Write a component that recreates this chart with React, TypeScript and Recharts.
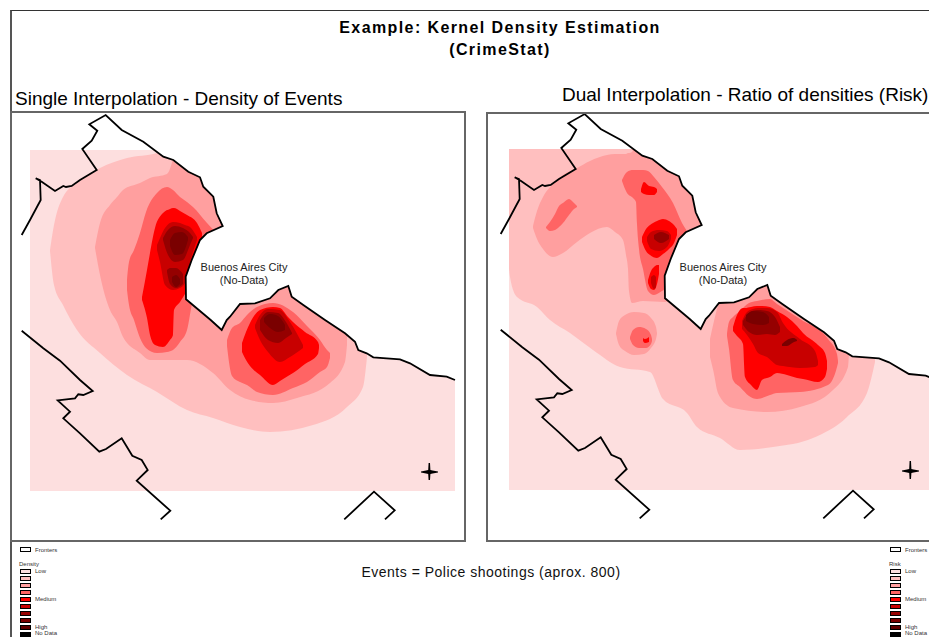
import { Area, ComposedChart, Line, XAxis, YAxis } from 'recharts';

type Band = [number, number, number][]; // x, top, bottom
type Pt = [number, number];

const LEVELS = ['#fddfdf', '#ffbfbf', '#ff9f9f', '#ff6464', '#ff0000', '#c80000', '#950000', '#7a0000', '#5f0000', '#000000'];

// Map frame, in the units of the map's own axes
const X_DOMAIN: [number, number] = [11, 465];
const Y_DOMAIN: [number, number] = [112, 541];

const extent: Band = [[30, 150, 491], [455, 150, 491]];

// Borders
const northBorder: Pt[] = [[21.7, 235], [30, 220], [40.7, 200], [40, 180], [35.7, 178.3], [41.7, 181.7], [55, 191], [63.3, 186], [66, 187], [71.7, 186], [80, 180], [96.7, 170], [82.3, 149], [91.7, 140.7], [97.3, 130.7], [89.3, 124.3], [105.7, 115], [121.7, 130], [143.3, 141.7], [163.3, 156.7], [173.3, 160], [188.3, 171.7], [200, 177.3], [203.3, 186.7], [213.3, 196.7], [216.7, 213.3], [222.7, 226], [206.7, 233.3], [200, 240], [191.7, 260], [185.7, 276.7], [186, 299.3], [210.7, 320], [221.7, 330], [226.7, 320], [230, 316.7], [240, 304], [255, 303.3], [270, 298.3], [278.3, 290], [288.3, 286], [291.7, 296.7], [303.3, 305], [325, 320], [345, 333.3], [355, 341.7], [358.3, 350], [366.7, 353.3], [373.3, 357.3], [400, 359.3], [410, 363.3], [430, 375], [446.7, 376.7], [455, 380]];
const southBorder: Pt[] = [[21.7, 330.7], [43.3, 348.3], [60, 360.7], [80, 380], [92.7, 391], [83.3, 395], [78.3, 394.3], [75, 398.3], [57.7, 400.3], [70, 411.7], [63.3, 418.3], [80, 433.3], [99.3, 451.7], [106, 449], [121.7, 438.3], [132.3, 455.7], [141.7, 460], [147.7, 470], [136.7, 480.7], [170.3, 510.7], [160.7, 519.3]];
const eastBorder: Pt[] = [[344.3, 519.3], [374, 491.7], [394.7, 510.3], [385, 519.3]];

// White outside the study area
const maskNorth: Band = [[105.7, 112, 115], [121.7, 112, 130], [143.3, 112, 141.7], [163.3, 112, 156.7], [173.3, 112, 160], [188.3, 112, 171.7], [200, 112, 177.3], [203.3, 112, 186.7], [213.3, 112, 196.7], [216.7, 112, 213.3], [222.7, 112, 226], [228, 112, 226]];
const maskCity: Band = [[185.7, 276.7, 299.3], [191.7, 260, 304], [200, 240, 311], [206.7, 233.3, 317], [221.7, 226.5, 330], [222.7, 226, 329], [222.7, 112, 329], [226.7, 112, 320], [230, 112, 316.7], [240, 112, 304], [255, 112, 303.3], [270, 112, 298.3], [278.3, 112, 290], [288.3, 112, 286], [291.7, 112, 296.7], [303.3, 112, 305], [325, 112, 320], [345, 112, 333.3], [355, 112, 341.7], [358.3, 112, 350], [366.7, 112, 353.3], [373.3, 112, 357.3], [400, 112, 359.3], [410, 112, 363.3], [430, 112, 375], [446.7, 112, 376.7], [455, 112, 380], [465, 112, 380]];

// Single interpolation bands
const densityL2: Band = [[50, 250, 251], [54, 225, 285], [63, 197, 305], [77, 183, 330], [100, 168, 353], [127, 158, 375], [157, 153, 392], [187, 112, 410], [213, 112, 418], [240, 112, 427], [270, 112, 432], [313, 112, 425], [347, 112, 407], [363, 112, 387], [367, 112, 357]];
const densityL3: Band = [[95, 247, 248], [100, 223, 275], [110, 205, 310], [117, 197, 322], [123, 190, 337], [140, 183, 353], [150, 178, 360], [167, 174, 360], [187, 112, 360], [213, 112, 373], [230, 112, 390], [250, 112, 400], [273, 112, 403], [297, 112, 398], [330, 112, 383], [345, 112, 362], [347, 112, 345]];
const densityL4a: Band = [[127, 280, 290], [129, 262, 305], [134, 250, 320], [140, 233, 338], [146, 212, 348], [157, 193, 353], [167, 187, 352], [173, 190, 350], [180, 197, 342], [187, 202, 330], [193, 207, 300], [207, 223, 280], [223, 240, 260]];
const densityL4b: Band = [[227, 340, 346], [232, 328, 376], [240, 323, 382], [247, 315, 385], [257, 307, 392], [273, 303, 395], [293, 312, 388], [307, 326, 382], [320, 340, 372], [327, 350, 367], [330, 353, 358]];
const densityL5a: Band = [[142, 297, 300], [147, 270, 318], [150, 253, 335], [155, 228, 345], [163, 213, 347], [170, 209, 340], [173, 208, 335], [174, 208, 310], [180, 211, 302], [187, 215, 290], [197, 223, 265], [202, 233, 240]];
const densityL5b: Band = [[242, 343, 352], [246, 332, 360], [250, 323, 366], [260, 310, 375], [273, 307, 385], [280, 308, 381], [288, 317, 376], [293, 322, 373], [305, 332, 364], [318, 342, 354], [319, 345, 348]];
const densityL6a: Band = [[157, 245, 250], [160, 238, 262], [165, 228, 285], [173, 222, 290], [180, 223, 288], [185, 225, 283], [190, 227, 262], [197, 237, 240]];
const densityL6b: Band = [[255, 325, 328], [260, 315, 340], [268, 309, 352], [280, 310, 362], [290, 322, 357], [303, 345, 348]];
const densityL7a: Band = [[163, 238, 240], [168, 230, 255], [175, 226, 262], [183, 228, 260], [190, 233, 245], [193, 237, 238]];
const densityL7b: Band = [[167, 270, 272], [170, 268, 284], [176, 268, 288], [183, 274, 284]];
const densityL7c: Band = [[260, 320, 330], [268, 312, 340], [278, 313, 343], [286, 322, 338], [292, 333, 334]];
const densityL8a: Band = [[170, 240, 246], [175, 233, 255], [182, 232, 254], [188, 237, 240]];
const densityL8b: Band = [[172, 277, 282], [176, 275, 287], [180, 279, 284]];
const densityL8c: Band = [[264, 318, 322], [270, 314, 328], [278, 316, 332], [285, 325, 330]];

const densityBands: [Band, number][] = [
  [densityL2, 1], [densityL3, 2], [densityL4a, 3], [densityL4b, 3], [densityL5a, 4], [densityL5b, 4],
  [densityL6a, 5], [densityL6b, 5], [densityL7a, 6], [densityL7b, 6], [densityL7c, 6], [densityL8a, 7], [densityL8b, 7], [densityL8c, 7],
];

// Dual interpolation bands
const riskL2: Band = [[30, 150, 270], [31, 150, 278], [38, 150, 298], [58, 150, 308], [71, 150, 321], [91, 150, 334], [114, 150, 351], [141, 150, 368], [171, 150, 373], [184, 150, 400], [208, 112, 414], [218, 112, 428], [241, 112, 439], [261, 112, 451], [294, 112, 448], [334, 112, 439], [368, 112, 418], [388, 112, 394], [396, 112, 363]];
const riskL3a: Band = [[54, 227, 229], [58, 212, 240], [64, 198, 250], [74, 185, 258], [84, 176, 254], [98, 169, 243], [111, 162, 234], [128, 156, 228], [136, 155, 233], [144, 155, 241], [147, 155, 256], [149, 154, 270], [150, 154, 292], [153, 153, 304], [164, 112, 302], [186, 112, 303], [200, 112, 290], [226, 112, 240]];
const riskL3b: Band = [[231, 340, 358], [235, 322, 375], [238, 310, 391], [241, 300, 398], [254, 112, 409], [288, 112, 413], [321, 112, 408], [354, 112, 391], [369, 112, 368], [370, 112, 354]];
const riskL3c: Band = [[137, 334, 335], [140, 322, 346], [146, 316, 352], [155, 313, 356], [165, 314, 355], [172, 319, 349], [177, 328, 340], [178, 334, 335]];
const riskL4a: Band = [[67, 228, 229], [71, 223, 232], [76, 215, 231], [80, 207, 228], [84, 204, 224], [90, 200, 216], [95, 204, 210], [98, 207, 208]];
const riskL4b: Band = [[143, 181, 182], [148, 173, 194], [154, 171, 199], [157, 171, 203], [158, 171, 225], [160, 171, 250], [164, 171, 270], [169, 172, 292], [175, 178, 296], [183, 188, 292], [194, 204, 285], [203, 224, 255], [210, 235, 237]];
const riskL4c: Band = [[151, 338, 340], [154, 331, 346], [160, 328, 349], [167, 330, 349], [172, 336, 345], [173, 340, 342]];
const riskL4d: Band = [[248, 335, 337], [250, 323, 350], [254, 318, 381], [261, 312, 388], [270, 304, 397], [278, 302, 400], [291, 300, 396], [298, 305, 394], [321, 320, 393], [349, 340, 386], [358, 355, 368], [359, 362, 364]];
const riskL5a: Band = [[162, 190, 193], [165, 183, 195], [170, 187, 196], [175, 188, 196], [178, 190, 193]];
const riskL5b: Band = [[163, 238, 243], [167, 230, 252], [171, 226, 256], [178, 222, 259], [184, 220, 255], [190, 222, 250], [195, 226, 244], [198, 230, 236]];
const riskL5c: Band = [[169, 281, 284], [172, 272, 290], [175, 268, 291], [178, 266, 285], [180, 266, 275]];
const riskL5d: Band = [[164, 339, 342], [166, 340, 344], [170, 338, 343]];
const riskL5e: Band = [[254, 328, 332], [258, 316, 337], [264, 309, 345], [266, 309, 378], [272, 308, 386], [278, 307, 391], [283, 307, 381], [291, 308, 378], [298, 312, 374], [308, 318, 376], [318, 327, 379], [324, 334, 380], [339, 346, 383], [346, 354, 378], [348, 362, 370]];
const riskL6a: Band = [[168, 238, 242], [172, 233, 250], [180, 231, 252], [188, 232, 248], [192, 236, 240]];
const riskL6b: Band = [[172, 278, 284], [175, 276, 290], [177, 278, 288]];
const riskL6c: Band = [[263, 322, 330], [268, 313, 336], [274, 310, 345], [279, 309, 354], [288, 309, 358], [298, 313, 366], [304, 324, 367], [321, 340, 369], [336, 352, 368], [339, 362, 366]];
const riskL7a: Band = [[175, 236, 240], [182, 233, 244], [190, 236, 240]];
const riskL7b: Band = [[264, 322, 326], [270, 314, 333], [278, 311, 336], [288, 312, 335], [296, 318, 336], [301, 328, 333]];
const riskL8a: Band = [[267, 316, 322], [274, 312, 325], [284, 313, 326], [290, 318, 324]];
const riskL8b: Band = [[303, 345, 347], [308, 341, 347], [315, 339, 343], [318, 341, 342]];

const riskBands: [Band, number][] = [
  [riskL2, 1], [riskL3a, 2], [riskL3b, 2], [riskL3c, 2], [riskL4a, 3], [riskL4b, 3], [riskL4c, 3], [riskL4d, 3],
  [riskL5a, 4], [riskL5b, 4], [riskL5c, 4], [riskL5d, 4], [riskL5e, 4], [riskL6a, 5], [riskL6b, 5], [riskL6c, 5],
  [riskL7a, 6], [riskL7b, 6], [riskL8a, 7], [riskL8b, 7],
];

// North arrows
const compassLeft: Band = [[421, 471.6, 472.4], [426, 470.6, 473.4], [428.2, 470, 474], [428.6, 463, 480], [430, 463, 480], [430.4, 470, 474], [432.6, 470.6, 473.4], [438, 471.6, 472.4]];
const compassRight: Band = [[423, 471.6, 472.4], [428, 470.6, 473.4], [430.2, 470, 474], [430.6, 462, 480], [432, 462, 480], [432.4, 470, 474], [434.6, 470.6, 473.4], [440, 471.6, 472.4]];

const legendRows = ['Low', '', '', '', 'Medium', '', '', '', 'High', 'No Data'];

const toRows = (band: Band) => band.map(([x, top, bottom]) => ({ x, range: [top, bottom] }));
const toLine = (pts: Pt[]) => pts.map(([x, y]) => ({ x, y }));

const FONT = '"Liberation Sans", Arial, sans-serif';

function MapPanel({ bands, compass, width, height }: { bands: [Band, number][]; compass: Band; width: number; height: number }) {
  const series = [
    { band: extent, color: LEVELS[0], curve: 'linear' },
    ...bands.map(([band, level]) => ({ band, color: LEVELS[level], curve: 'monotoneX' })),
    { band: maskNorth, color: '#ffffff', curve: 'linear' },
    { band: maskCity, color: '#ffffff', curve: 'linear' },
    { band: compass, color: '#000000', curve: 'linear' },
  ];
  return (
    <ComposedChart width={width} height={height} margin={{ top: 0, right: 0, bottom: 0, left: 0 }}>
      <XAxis type="number" dataKey="x" domain={X_DOMAIN} hide allowDataOverflow />
      <YAxis type="number" domain={Y_DOMAIN} reversed hide allowDataOverflow />
      {series.map((s, i) => (
        <Area
          key={i}
          data={toRows(s.band)}
          dataKey="range"
          type={s.curve as any}
          fill={s.color}
          fillOpacity={1}
          stroke="none"
          dot={false}
          activeDot={false}
          isAnimationActive={false}
        />
      ))}
      {[northBorder, southBorder, eastBorder].map((pts, i) => (
        <Line
          key={i}
          data={toLine(pts)}
          dataKey="y"
          type="linear"
          stroke="#000000"
          strokeWidth={1.8}
          dot={false}
          activeDot={false}
          isAnimationActive={false}
        />
      ))}
    </ComposedChart>
  );
}

function Label({ x, y, size, children, anchor, bold, spacing, color }: any) {
  const transform = anchor === 'middle' ? 'translate(-50%, -50%)' : 'translateY(-50%)';
  return (
    <div
      style={{
        position: 'absolute',
        left: x,
        top: y,
        transform,
        fontSize: size,
        fontWeight: bold ? 700 : 400,
        letterSpacing: spacing,
        color: color ?? '#000',
        whiteSpace: 'nowrap',
        lineHeight: 1,
      }}
    >
      {children}
    </div>
  );
}

function MapLegend({ x, title }: { x: number; title: string }) {
  const swatch = (y: number, color: string, key: string) => (
    <div
      key={key}
      style={{ position: 'absolute', left: x, top: y - 2.5, width: 9, height: 3, background: color, border: '1px solid #000' }}
    />
  );
  return (
    <>
      {swatch(549.5, '#ffffff', 'fronters')}
      <Label x={x + 15} y={550} size={6} color="#333">Fronters</Label>
      <Label x={x - 1} y={564} size={6} color="#333">{title}</Label>
      {legendRows.map((row, i) => (
        <div key={i}>
          {swatch(571 + i * 7, LEVELS[i], `s${i}`)}
          {row && <Label x={x + 15} y={i === 9 ? 633 : 571 + i * 7} size={6} color="#333">{row}</Label>}
        </div>
      ))}
    </>
  );
}

export default function App() {
  const panel = { position: 'absolute' as const, border: '2px solid #666', boxSizing: 'border-box' as const };
  return (
    <div style={{ position: 'absolute', left: 0, top: 0, width: 929, height: 637, overflow: 'hidden', background: '#fff', fontFamily: FONT }}>
      <div style={{ position: 'absolute', left: 10, top: 10, width: 1000, height: 800, borderTop: '1px solid #333', borderLeft: '2px solid #555' }} />
      <div style={{ position: 'absolute', left: 11, top: 112 }}>
        <MapPanel bands={densityBands} compass={compassLeft} width={454} height={429} />
      </div>
      <div style={{ position: 'absolute', left: 490, top: 111 }}>
        <MapPanel bands={riskBands} compass={compassRight} width={454} height={429} />
      </div>
      <div style={{ ...panel, left: 10, top: 111, width: 456, height: 431 }} />
      <div style={{ ...panel, left: 486, top: 112, width: 500, height: 430 }} />

      <Label x={500} y={28} size={16} bold spacing={1.4} anchor="middle">Example: Kernel Density Estimation</Label>
      <Label x={500} y={50} size={16} bold spacing={1.4} anchor="middle">(CrimeStat)</Label>
      <Label x={15} y={98} size={19}>Single Interpolation - Density of Events</Label>
      <Label x={562} y={94} size={19}>Dual Interpolation - Ratio of densities (Risk)</Label>
      <Label x={244} y={267} size={11} anchor="middle" color="#222">Buenos Aires City</Label>
      <Label x={244} y={280} size={11} anchor="middle" color="#222">(No-Data)</Label>
      <Label x={723} y={267} size={11} anchor="middle" color="#222">Buenos Aires City</Label>
      <Label x={723} y={280} size={11} anchor="middle" color="#222">(No-Data)</Label>
      <Label x={491} y={572} size={14} spacing={0.5} anchor="middle" color="#111">Events = Police shootings (aprox. 800)</Label>

      <MapLegend x={20} title="Density" />
      <MapLegend x={890} title="Risk" />
    </div>
  );
}
